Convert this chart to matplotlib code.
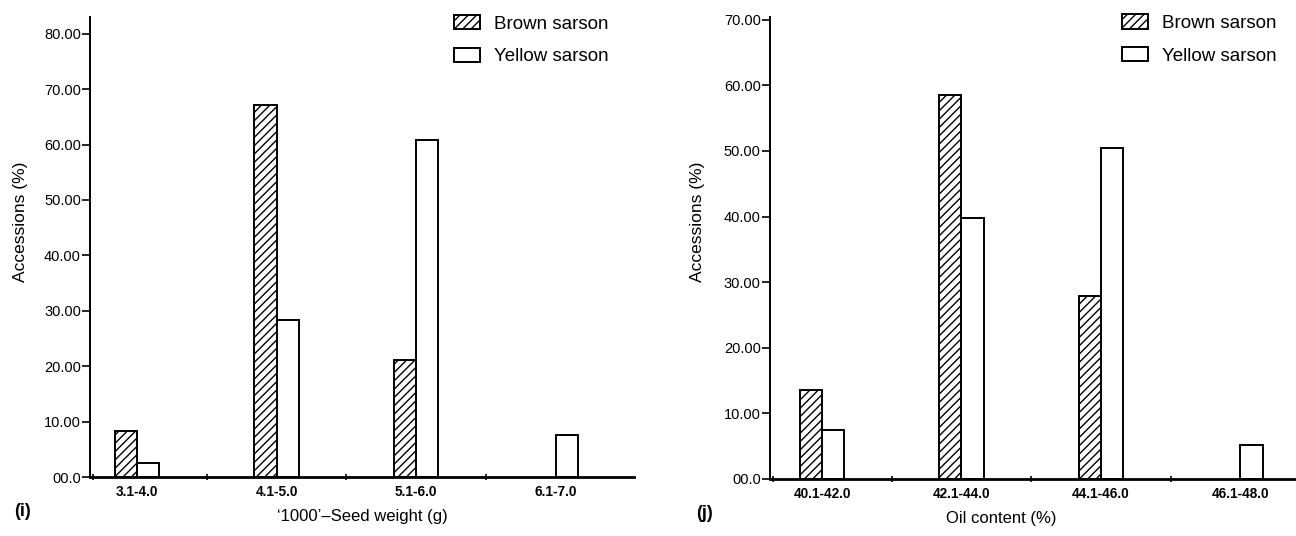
import matplotlib
matplotlib.use("Agg")
import matplotlib.pyplot as plt
import numpy as np
from matplotlib.ticker import FuncFormatter, FixedLocator

plt.rcParams["font.family"] = ["Liberation Sans", "DejaVu Sans"]
plt.rcParams["hatch.linewidth"] = 1.0

# --- data ---------------------------------------------------------------------
seed_bins = ["3.1-4.0", "4.1-5.0", "5.1-6.0", "6.1-7.0"]
seed_brown = [8.3, 67.1, 21.2, 0.0]
seed_yellow = [2.5, 28.3, 60.8, 7.6]

oil_bins = ["40.1-42.0", "42.1-44.0", "44.1-46.0", "46.1-48.0"]
oil_brown = [13.6, 58.6, 27.8, 0.0]
oil_yellow = [7.4, 39.7, 50.4, 5.2]

W = 0.16  # bar width in category units


def fmt_y(v, _):
    return "00.0" if v == 0 else f"{v:.2f}"


def panel(ax, bins, brown, yellow, xlim, ylim, yticks, xlabel, xlab_x,
          ylab_x, tag):
    x = np.arange(len(bins))
    for i, v in enumerate(brown):
        if v > 0:
            ax.bar(x[i] - W / 2, v, W, color="white", edgecolor="black",
                   lw=1.4, hatch="////", label="Brown sarson" if i == 0 else None)
    ax.bar(x + W / 2, yellow, W, color="white", edgecolor="black", lw=1.4,
           label="Yellow sarson")
    ax.set_xlim(*xlim)
    ax.set_ylim(*ylim)
    for s in ("top", "right"):
        ax.spines[s].set_visible(False)
    ax.spines["left"].set_linewidth(1.4)
    ax.spines["bottom"].set_linewidth(2.0)

    ax.set_xticks(x)
    ax.set_xticklabels(bins, fontsize=9.8, fontweight="bold")
    ax.tick_params(axis="x", which="major", length=0, pad=6)
    ax.xaxis.set_minor_locator(FixedLocator([xlim[0] + 0.02, 0.5, 1.5, 2.5]))
    ax.tick_params(axis="x", which="minor", direction="inout", length=4,
                   width=1.2)

    ax.set_yticks(yticks)
    ax.yaxis.set_major_formatter(FuncFormatter(fmt_y))
    ax.tick_params(axis="y", length=6, width=1.2, pad=0.5, labelsize=10.5)

    ax.set_ylabel("Accessions (%)", fontsize=12.5)
    ax.yaxis.set_label_coords(ylab_x, 0.555)
    ax.set_xlabel(xlabel, fontsize=12)
    ax.xaxis.set_label_coords(xlab_x, -0.07)
    ax.xaxis.label.set_va("top")

    ax.text(-0.14, -0.075, tag, transform=ax.transAxes, fontsize=13,
            fontweight="bold", ha="left", va="center")

    ax.legend(loc="upper left", bbox_to_anchor=(0.67, 1.005), frameon=False,
              fontsize=13.5, handlelength=1.35, handleheight=0.8,
              handletextpad=0.75, labelspacing=0.8, borderpad=0,
              borderaxespad=0)


fig = plt.figure(figsize=(12.96, 5.36), dpi=100)
ax1 = fig.add_axes([0.0694, 0.110, 0.4198, 0.858])
ax2 = fig.add_axes([0.594, 0.107, 0.406, 0.862])

panel(ax1, seed_bins, seed_brown, seed_yellow, (-0.336, 3.56), (0, 83),
      np.arange(0, 81, 10), "\u20181000\u2019\u2013Seed weight (g)", 0.5,
      -0.114, "(i)")
panel(ax2, oil_bins, oil_brown, oil_yellow, (-0.374, 3.4), (0, 70.5),
      np.arange(0, 71, 10), "Oil content (%)", 0.44, -0.124, "(j)")

fig.savefig("out.png", dpi=100)
